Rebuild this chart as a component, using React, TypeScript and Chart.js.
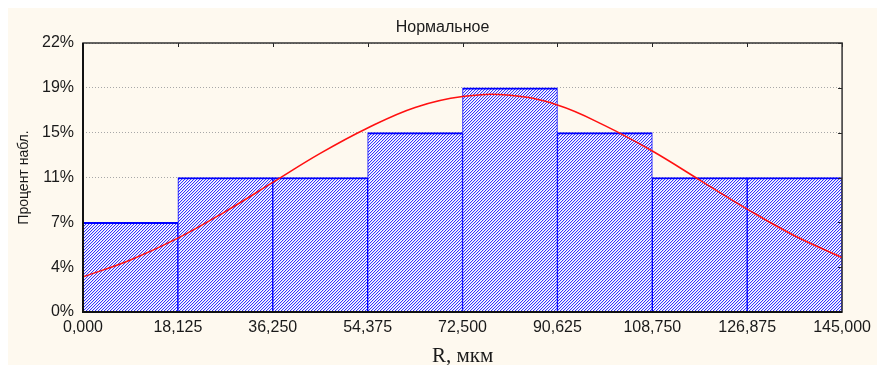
import React, { useEffect, useRef } from 'react';
import { Chart, registerables } from 'chart.js';

Chart.register(...registerables);

// ---- data ----
const binEdges = [0, 18.125, 36.25, 54.375, 72.5, 90.625, 108.75, 126.875, 145];
const binCenters = [9.0625, 27.1875, 45.3125, 63.4375, 81.5625, 99.6875, 117.8125, 135.9375];
const binCounts = [2, 3, 3, 4, 5, 4, 3, 3];
const totalN = 27;
const xTickLabels = ['0,000', '18,125', '36,250', '54,375', '72,500', '90,625', '108,750', '126,875', '145,000'];
const yTickCounts = [0, 1, 2, 3, 4, 5, 6];
const yTickLabels = ['0%', '4%', '7%', '11%', '15%', '19%', '22%'];
const curveX = [0, 9.0625, 18.125, 27.1875, 36.25, 45.3125, 54.375, 63.4375, 72.5, 81.5625, 90.625, 99.6875, 108.75, 117.8125, 126.875, 135.9375, 145];
const curveY = [2.9, 4.3, 6.1, 8.3, 10.7, 13.1, 15.2, 16.9, 17.8, 17.9, 17.1, 15.4, 13.3, 10.9, 8.5, 6.3, 4.5];

const TEXT = '#1a1a1a';
const SANS = '"Liberation Sans", Arial, sans-serif';
const SERIF = '"Liberation Serif", "Times New Roman", serif';

function makeHatch(ctx: CanvasRenderingContext2D): CanvasPattern | string {
  const c = document.createElement('canvas');
  c.width = 3;
  c.height = 3;
  const g = c.getContext('2d');
  if (!g) return '#a0a0f0';
  g.fillStyle = '#ffffff';
  g.fillRect(0, 0, 3, 3);
  for (let y = 0; y < 3; y++) {
    const x = (2 - y + 3) % 3;
    g.fillStyle = '#3434ff';
    g.fillRect(x, y, 1, 1);
    g.fillStyle = '#d6d6ff';
    g.fillRect((x + 1) % 3, y, 1, 1);
  }
  return ctx.createPattern(c, 'repeat') || '#a0a0f0';
}

const framePlugin = {
  id: 'frame',
  afterDatasetsDraw(chart: any) {
    const { ctx, chartArea: a, scales } = chart;
    ctx.save();
    ctx.strokeStyle = '#222';
    ctx.lineWidth = 1;
    scales.x.ticks.forEach((t: any) => {
      const px = Math.round(scales.x.getPixelForValue(t.value)) + 0.5;
      ctx.beginPath();
      ctx.moveTo(px, a.top);
      ctx.lineTo(px, a.top + 4);
      ctx.stroke();
    });
    scales.y.ticks.forEach((t: any) => {
      const py = Math.round(scales.y.getPixelForValue(t.value)) + 0.5;
      ctx.beginPath();
      ctx.moveTo(a.right, py);
      ctx.lineTo(a.right - 4, py);
      ctx.stroke();
    });
    ctx.lineWidth = 1.5;
    ctx.strokeStyle = '#333';
    ctx.strokeRect(a.left, a.top, a.right - a.left, a.bottom - a.top);
    ctx.lineWidth = 2;
    ctx.strokeStyle = '#111';
    ctx.beginPath();
    ctx.moveTo(a.left, a.top);
    ctx.lineTo(a.left, a.bottom);
    ctx.lineTo(a.right, a.bottom);
    ctx.stroke();
    ctx.restore();
  },
};

export default function App() {
  const ref = useRef<HTMLCanvasElement | null>(null);

  useEffect(() => {
    const canvas = ref.current;
    if (!canvas) return;
    const ctx = canvas.getContext('2d');
    if (!ctx) return;
    const hatch = makeHatch(ctx);
    const yMax = (yTickCounts[yTickCounts.length - 1] / totalN) * 100;

    const chart = new Chart(ctx, {
      type: 'bar',
      data: {
        datasets: [
          {
            type: 'line',
            data: curveX.map((x, i) => ({ x, y: curveY[i] })),
            borderColor: '#ff1010',
            borderWidth: 1.5,
            pointRadius: 0,
            tension: 0.4,
            fill: false,
            order: 0,
          } as any,
          {
            type: 'bar',
            data: binCenters.map((x, i) => ({ x, y: (binCounts[i] / totalN) * 100 })),
            backgroundColor: hatch as any,
            borderColor: '#0000ff',
            borderWidth: { top: 2, left: 1, right: 1, bottom: 0 },
            borderSkipped: false,
            barPercentage: 1,
            categoryPercentage: 1,
            order: 1,
          } as any,
        ],
      },
      options: {
        animation: false,
        responsive: false,
        devicePixelRatio: 1,
        layout: { padding: 0 },
        plugins: {
          legend: { display: false },
          tooltip: { enabled: false },
          title: {
            display: true,
            text: 'Нормальное',
            color: TEXT,
            font: { family: SANS, size: 16, weight: 'normal', lineHeight: 1.2 },
            padding: { top: 10.2, bottom: 5.6 },
          },
        },
        scales: {
          x: {
            type: 'linear',
            min: binEdges[0],
            max: binEdges[binEdges.length - 1],
            offset: false,
            afterBuildTicks: (scale: any) => {
              scale.ticks = binEdges.map((v) => ({ value: v }));
            },
            afterFit: (scale: any) => {
              scale.height = 53;
            },
            ticks: {
              autoSkip: false,
              maxRotation: 0,
              padding: 6,
              color: TEXT,
              font: { family: SANS, size: 16 },
              callback: (_v: any, i: number) => xTickLabels[i],
            },
            grid: { display: false, drawTicks: false },
            border: { display: false },
            title: {
              display: true,
              text: 'R, мкм',
              color: TEXT,
              font: { family: SERIF, size: 21, lineHeight: 1 },
              padding: { top: 0, bottom: -1.5 },
            },
          },
          y: {
            type: 'linear',
            position: 'left',
            min: 0,
            max: yMax,
            afterBuildTicks: (scale: any) => {
              scale.ticks = yTickCounts.map((k) => ({ value: (k / totalN) * 100 }));
            },
            afterFit: (scale: any) => {
              scale.width = 75;
            },
            ticks: {
              padding: 9,
              color: TEXT,
              font: { family: SANS, size: 16 },
              callback: (_v: any, i: number) => yTickLabels[i],
            },
            grid: { color: '#a8a8a8', lineWidth: 1, drawTicks: false },
            border: { display: false, dash: [1, 2] },
            title: {
              display: true,
              text: 'Процент набл.',
              color: TEXT,
              font: { family: SANS, size: 14, lineHeight: 1.2 },
              padding: { top: 7.6, bottom: 0 },
            },
          },
          yRight: {
            type: 'linear',
            position: 'right',
            min: 0,
            max: yMax,
            afterFit: (scale: any) => {
              scale.width = 32;
            },
            ticks: { display: false },
            grid: { display: false, drawTicks: false },
            border: { display: false },
          },
        },
      } as any,
      plugins: [framePlugin],
    });

    return () => chart.destroy();
  }, []);

  return (
    <div style={{ position: 'absolute', left: 8, top: 8, width: 869, height: 357, background: '#fef9ef' }}>
      <canvas ref={ref} width={869} height={357} style={{ display: 'block' }} />
    </div>
  );
}
